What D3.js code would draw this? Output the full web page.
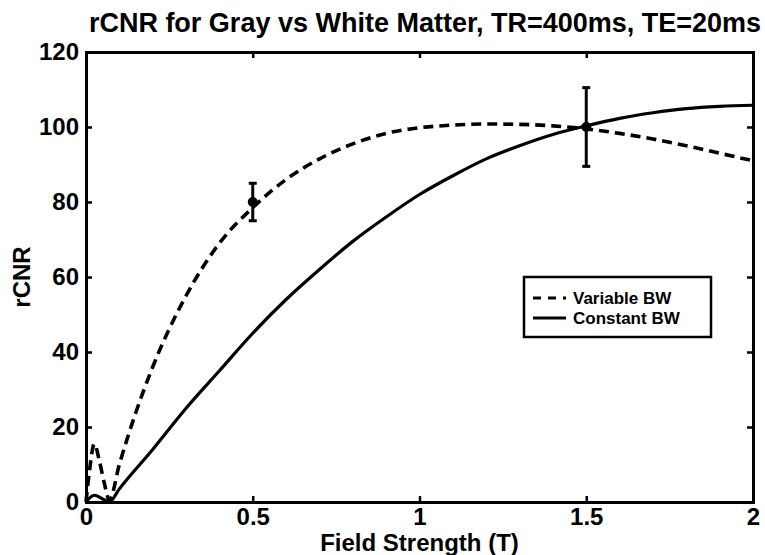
<!DOCTYPE html>
<html>
<head>
<meta charset="utf-8">
<script src="https://cdn.jsdelivr.net/npm/d3@7"></script>
<style>
    body { margin: 0; background: #fff; }
    text { font-family: "Liberation Sans", Arial, sans-serif; font-weight: bold; fill: #000; }
</style>
</head>
<body>
<svg id="chart" width="765" height="555"></svg>
<script>
// field strength (T) samples for the two curves
const fieldVariable = [0, 0.01, 0.025, 0.04, 0.055, 0.07, 0.1, 0.15, 0.2, 0.3, 0.4, 0.5, 0.6, 0.7, 0.8, 0.9, 1.0, 1.1, 1.2, 1.3, 1.4, 1.5, 1.6, 1.7, 1.8, 1.9, 2.0];
const rcnrVariable = [0, 8, 15.5, 11, 5, 0.5, 10, 24, 36, 55, 69, 78.5, 86, 91.5, 95.5, 98.3, 99.8, 100.5, 100.8, 100.7, 100.3, 99.5, 98.3, 96.8, 95, 93, 91];

const fieldConstant = [0, 0.025, 0.05, 0.07, 0.1, 0.2, 0.3, 0.4, 0.5, 0.6, 0.7, 0.8, 0.9, 1.0, 1.1, 1.2, 1.3, 1.4, 1.5, 1.6, 1.7, 1.8, 1.9, 2.0];
const rcnrConstant = [0, 1.8, 0.8, 0, 3.5, 14, 25, 35, 45, 54, 62, 69.5, 76, 82, 87, 91.5, 95, 98, 100.3, 102.3, 103.8, 104.9, 105.5, 105.8];

// measured points with error bars
const measField = [0.5, 1.5];
const measRcnr = [80, 100];
const measErr = [5, 10.5];

const xTicks = [0, 0.5, 1, 1.5, 2];
const xTickLabels = ["0", "0.5", "1", "1.5", "2"];
const yTicks = [0, 20, 40, 60, 80, 100, 120];

const legendLabels = ["Variable BW", "Constant BW"];

const ctx = {
    LEFT: 86,
    RIGHT: 753,
    TOP: 52,
    BOTTOM: 502,
    TICK: 6,
    AXIS_W: 3,
    LINE_W: 3.2,
    DASH: "10,6",
    TICK_FONT: "24px",
};

const svg = d3.select('#chart');

main();

function main() {
    const x = d3.scaleLinear().domain([0, 2]).range([ctx.LEFT, ctx.RIGHT]);
    const y = d3.scaleLinear().domain([0, 120]).range([ctx.BOTTOM, ctx.TOP]);

    drawAxes(x, y);
    drawCurves(x, y);
    drawErrorBars(x, y);
    drawLegend();
    drawLabels();
}

function drawAxes(x, y) {
    const fmt = d => xTickLabels[xTicks.indexOf(d)];

    // bottom / top (ticks point inward, matlab style)
    svg.append("g")
        .attr("transform", `translate(0,${ctx.BOTTOM})`)
        .call(d3.axisBottom(x).tickValues(xTicks).tickFormat(fmt).tickSizeInner(-ctx.TICK).tickSizeOuter(0).tickPadding(6))
        .call(styleAxis);
    svg.append("g")
        .attr("transform", `translate(0,${ctx.TOP})`)
        .call(d3.axisTop(x).tickValues(xTicks).tickFormat("").tickSizeInner(-ctx.TICK).tickSizeOuter(0))
        .call(styleAxis);

    svg.append("g")
        .attr("transform", `translate(${ctx.LEFT},0)`)
        .call(d3.axisLeft(y).tickValues(yTicks).tickSizeInner(-ctx.TICK).tickSizeOuter(0).tickPadding(ctx.TICK + 1))
        .call(styleAxis);
    svg.append("g")
        .attr("transform", `translate(${ctx.RIGHT},0)`)
        .call(d3.axisRight(y).tickValues(yTicks).tickFormat("").tickSizeInner(-ctx.TICK).tickSizeOuter(0))
        .call(styleAxis);
}

function styleAxis(g) {
    g.select(".domain").attr("stroke", "#000").attr("stroke-width", ctx.AXIS_W).attr("stroke-linecap", "square");
    g.selectAll(".tick line").attr("stroke", "#000").attr("stroke-width", 2.5);
    g.selectAll(".tick text")
        .style("font-size", ctx.TICK_FONT)
        .attr("fill", "#000");
}

function drawCurves(x, y) {
    const line = d3.line().x(d => x(d[0])).y(d => y(d[1])).curve(d3.curveMonotoneX);

    svg.append("path")
        .datum(d3.zip(fieldVariable, rcnrVariable))
        .attr("d", line)
        .attr("fill", "none")
        .attr("stroke", "#000")
        .attr("stroke-width", ctx.LINE_W + 0.4)
        .attr("stroke-dasharray", ctx.DASH);

    svg.append("path")
        .datum(d3.zip(fieldConstant, rcnrConstant))
        .attr("d", line)
        .attr("fill", "none")
        .attr("stroke", "#000")
        .attr("stroke-width", ctx.LINE_W);
}

function drawErrorBars(x, y) {
    const pts = measField.map((f, i) => ({ f: f, v: measRcnr[i], e: measErr[i] }));
    const g = svg.append("g").attr("stroke", "#000").attr("stroke-width", 3);

    g.selectAll(".bar").data(pts).enter().append("line")
        .attr("x1", d => x(d.f)).attr("x2", d => x(d.f))
        .attr("y1", d => y(d.v - d.e)).attr("y2", d => y(d.v + d.e));
    g.selectAll(".capTop").data(pts).enter().append("line")
        .attr("x1", d => x(d.f) - 4).attr("x2", d => x(d.f) + 4)
        .attr("y1", d => y(d.v + d.e)).attr("y2", d => y(d.v + d.e));
    g.selectAll(".capBot").data(pts).enter().append("line")
        .attr("x1", d => x(d.f) - 4).attr("x2", d => x(d.f) + 4)
        .attr("y1", d => y(d.v - d.e)).attr("y2", d => y(d.v - d.e));
    g.selectAll("circle").data(pts).enter().append("circle")
        .attr("cx", d => x(d.f)).attr("cy", d => y(d.v))
        .attr("r", 3.5)
        .attr("fill", "#000");
}

function drawLegend() {
    const lg = svg.append("g");
    lg.append("rect")
        .attr("x", 524).attr("y", 277)
        .attr("width", 187).attr("height", 60)
        .attr("fill", "#fff")
        .attr("stroke", "#000")
        .attr("stroke-width", 2.5);

    legendLabels.forEach((label, i) => {
        const ly = 298 + i * 20;
        lg.append("line")
            .attr("x1", 533).attr("x2", 566)
            .attr("y1", ly).attr("y2", ly)
            .attr("stroke", "#000")
            .attr("stroke-width", 3)
            .attr("stroke-dasharray", i == 0 ? "8,7" : null);
        lg.append("text")
            .attr("x", 573).attr("y", ly + 6)
            .style("font-size", "17px")
            .text(label);
    });
}

function drawLabels() {
    svg.append("text")
        .attr("x", 425).attr("y", 32)
        .attr("text-anchor", "middle")
        .style("font-size", "27px")
        .text("rCNR for Gray vs White Matter, TR=400ms, TE=20ms");

    svg.append("text")
        .attr("x", (ctx.LEFT + ctx.RIGHT) / 2).attr("y", 551)
        .attr("text-anchor", "middle")
        .style("font-size", "24px")
        .text("Field Strength (T)");

    svg.append("text")
        .attr("transform", `translate(30,${(ctx.TOP + ctx.BOTTOM) / 2}) rotate(-90)`)
        .attr("text-anchor", "middle")
        .style("font-size", "24px")
        .text("rCNR");
}
</script>
</body>
</html>
